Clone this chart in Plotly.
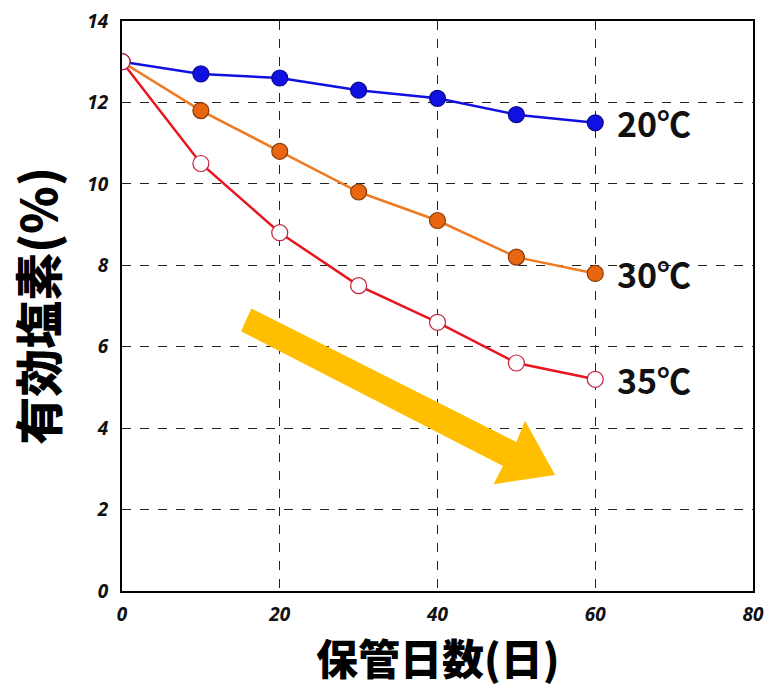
import plotly.graph_objects as go

# storage days and available chlorine (%) at each storage temperature
days = [0, 10, 20, 30, 40, 50, 60]
chlorine_20c = [13.0, 12.7, 12.6, 12.3, 12.1, 11.7, 11.5]
chlorine_30c = [13.0, 11.8, 10.8, 9.8, 9.1, 8.2, 7.8]
chlorine_35c = [13.0, 10.5, 8.8, 7.5, 6.6, 5.6, 5.2]
series_labels = ["20℃", "30℃", "35℃"]

x_ticks = [0, 20, 40, 60, 80]
y_ticks = [0, 2, 4, 6, 8, 10, 12, 14]

fig = go.Figure()

styles = [
    dict(line="#1010E0", fill="#1010E0", edge="#0A0A90"),
    dict(line="#EE7A22", fill="#E8660F", edge="#8A3A0A"),
    dict(line="#E8141E", fill="#FFFFFF", edge="#C02040"),
]

for vals, lab, st in zip([chlorine_20c, chlorine_30c, chlorine_35c], series_labels, styles):
    fig.add_trace(go.Scatter(
        x=days, y=vals, mode="lines+markers", name=lab,
        line=dict(color=st["line"], width=2.5),
        marker=dict(size=16, color=st["fill"], line=dict(color=st["edge"], width=1.2)),
        showlegend=False,
    ))
    fig.add_annotation(
        x=days[-1], y=vals[-1], xref="x", yref="y", text=lab, showarrow=False,
        xanchor="left", yanchor="middle", xshift=20,
        font=dict(family="Noto Sans CJK JP", size=34, color="#111111", weight="bold"),
    )

# big downward-trend arrow drawn over the plot area
arrow_path = ("M 16.4 6.94 L 50.0 3.66 L 51.1 4.18 L 54.9 2.85 "
              "L 47.1 2.62 L 48.3 3.07 L 15.1 6.38 Z")
fig.add_shape(type="path", path=arrow_path, xref="x", yref="y",
              fillcolor="#FFBE00", line=dict(width=0), layer="above")

tick_font = dict(family="Open Sans", size=19, color="#111111", weight="bold", style="italic")
title_font = dict(family="Noto Sans CJK JP", size=42, color="#000000", weight=900)

# x-axis title anchored to the bottom edge of the figure
fig.add_annotation(
    x=0.5, y=0, xref="paper", yref="paper", text="保管日数(日)", showarrow=False,
    xanchor="center", yanchor="bottom", yshift=-98, font=title_font,
)

fig.update_xaxes(
    range=[0, 80], tickvals=x_ticks, ticks="", tickfont=tick_font, ticklabelstandoff=5,
    showgrid=True, gridcolor="#222222", griddash="dash", gridwidth=1, automargin=False,
    zeroline=False, showline=True, linecolor="#000000", linewidth=2, mirror=True,
)
fig.update_yaxes(
    range=[0, 14], tickvals=y_ticks, ticks="", tickfont=tick_font, ticklabelstandoff=8,
    showgrid=True, gridcolor="#222222", griddash="dash", gridwidth=1, automargin=False,
    zeroline=False, showline=True, linecolor="#000000", linewidth=2, mirror=True,
    title=dict(text="有効塩素(%)", font=dict(family="Noto Sans CJK JP", size=48,
                                             color="#000000", weight=900), standoff=14),
)

fig.update_layout(
    width=769, height=689,
    margin=dict(l=122, r=16, t=21, b=98),
    paper_bgcolor="#FFFFFF", plot_bgcolor="#FFFFFF",
)

fig.write_html("out.html")
